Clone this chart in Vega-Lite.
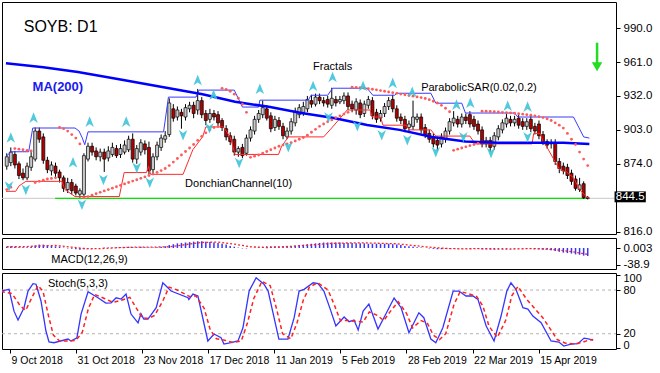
{
"$schema":"https://vega.github.io/schema/vega-lite/v6.json",
"padding":{"left":1,"top":1,"right":0,"bottom":0},
"background":"white",
"spacing":4,
"bounds":"flush",
"config":{"view":{"stroke":"#000","strokeWidth":1},"font":"Liberation Sans","axis":{"labelFont":"Liberation Sans","labelColor":"#000","tickColor":"#000","domain":false,"grid":false,"labelFontSize":11.5,"tickSize":4}},
"resolve":{"scale":{"x":"independent","y":"independent"}},
"datasets":{
"candles":[
{"i":-2,"o":872,"h":883,"l":869,"c":880,"m":3,"s":852},
{"i":-1,"o":875,"h":888,"l":872,"c":884,"m":4,"s":854},
{"i":0,"o":882,"h":885,"l":870,"c":873,"m":3,"s":887},
{"i":1,"o":874,"h":876,"l":861,"c":864,"m":2,"s":886.5},
{"i":2,"o":866,"h":870,"l":860,"c":862,"m":2,"s":886},
{"i":3,"o":862,"h":875,"l":860,"c":872,"m":2,"s":885.5},
{"i":4,"o":871,"h":884,"l":868,"c":880,"m":3,"s":885},
{"i":5,"o":878,"h":905,"l":876,"c":902,"m":6,"s":858},
{"i":6,"o":902,"h":905,"l":892,"c":895,"m":8,"s":859},
{"i":7,"o":897,"h":900,"l":874,"c":877,"m":8,"s":860},
{"i":8,"o":877,"h":880,"l":866,"c":869,"m":6,"s":861},
{"i":9,"o":868,"h":876,"l":864,"c":873,"m":5,"s":861.5},
{"i":10,"o":872,"h":875,"l":862,"c":866,"m":4,"s":862},
{"i":11,"o":867,"h":869,"l":858,"c":862,"m":3,"s":905},
{"i":12,"o":862,"h":864,"l":850,"c":853,"m":1,"s":904},
{"i":13,"o":852,"h":862,"l":849,"c":858,"m":-1,"s":902},
{"i":14,"o":858,"h":861,"l":848,"c":851,"m":-2,"s":899},
{"i":15,"o":855,"h":857,"l":847,"c":849,"m":-3,"s":896},
{"i":16,"o":848,"h":853,"l":845,"c":851,"m":-4,"s":891},
{"i":17,"o":848,"h":883,"l":846,"c":881,"m":-3,"s":845},
{"i":18,"o":878,"h":892,"l":876,"c":889,"m":-2,"s":846},
{"i":19,"o":889,"h":892,"l":881,"c":884,"m":-1,"s":847.2},
{"i":20,"o":885,"h":888,"l":877,"c":880,"m":0,"s":848.4},
{"i":21,"o":880,"h":887,"l":876,"c":884,"m":0,"s":849.6},
{"i":22,"o":884,"h":887,"l":867,"c":878,"m":1,"s":850.8},
{"i":23,"o":879,"h":889,"l":876,"c":885,"m":1,"s":852},
{"i":24,"o":882,"h":892,"l":880,"c":888,"m":1,"s":853.2},
{"i":25,"o":887,"h":890,"l":879,"c":881,"m":2,"s":854.4},
{"i":26,"o":882,"h":891,"l":879,"c":887,"m":2,"s":855.6},
{"i":27,"o":884,"h":894,"l":882,"c":890,"m":2,"s":856.8},
{"i":28,"o":886,"h":898,"l":884,"c":895,"m":3,"s":858},
{"i":29,"o":895,"h":900,"l":875,"c":878,"m":2,"s":859.2},
{"i":30,"o":878,"h":890,"l":874,"c":887,"m":2,"s":860.4},
{"i":31,"o":884,"h":895,"l":881,"c":892,"m":3,"s":861.6},
{"i":32,"o":891,"h":894,"l":882,"c":886,"m":2,"s":862.8},
{"i":33,"o":888,"h":893,"l":865,"c":868,"m":1,"s":864},
{"i":34,"o":869,"h":883,"l":866,"c":880,"m":1,"s":865.2},
{"i":35,"o":880,"h":893,"l":877,"c":890,"m":2,"s":866.6},
{"i":36,"o":888,"h":899,"l":885,"c":896,"m":3,"s":868.2},
{"i":37,"o":895,"h":902,"l":892,"c":898,"m":4,"s":870},
{"i":38,"o":899,"h":930,"l":897,"c":926,"m":7,"s":872.5},
{"i":39,"o":921,"h":925,"l":910,"c":913,"m":9,"s":875.5},
{"i":40,"o":914,"h":923,"l":911,"c":920,"m":11,"s":878.5},
{"i":41,"o":918,"h":921,"l":904,"c":915,"m":12,"s":881.5},
{"i":42,"o":914,"h":925,"l":911,"c":922,"m":13,"s":884.5},
{"i":43,"o":921,"h":927,"l":918,"c":924,"m":14,"s":887.5},
{"i":44,"o":924,"h":927,"l":913,"c":917,"m":15,"s":890.5},
{"i":45,"o":920,"h":938,"l":916,"c":928,"m":16,"s":894},
{"i":46,"o":928,"h":931,"l":913,"c":916,"m":16,"s":897.5},
{"i":47,"o":917,"h":920,"l":907,"c":911,"m":15,"s":900.5},
{"i":48,"o":912,"h":921,"l":909,"c":917,"m":14,"s":903},
{"i":49,"o":917,"h":920,"l":911,"c":914,"m":13,"s":905},
{"i":50,"o":916,"h":919,"l":906,"c":909,"m":12,"s":905.8},
{"i":51,"o":911,"h":913,"l":902,"c":905,"m":10,"s":938.5},
{"i":52,"o":904,"h":907,"l":894,"c":897,"m":8,"s":937.5},
{"i":53,"o":898,"h":901,"l":890,"c":893,"m":5,"s":936},
{"i":54,"o":895,"h":898,"l":881,"c":884,"m":3,"s":933.5},
{"i":55,"o":884,"h":889,"l":880,"c":887,"m":1,"s":930},
{"i":56,"o":888,"h":891,"l":879,"c":881,"m":-1,"s":925},
{"i":57,"o":883,"h":899,"l":881,"c":896,"m":-1,"s":918},
{"i":58,"o":896,"h":906,"l":893,"c":903,"m":0,"s":879.5},
{"i":59,"o":902,"h":915,"l":899,"c":912,"m":1,"s":880.5},
{"i":60,"o":912,"h":920,"l":909,"c":917,"m":2,"s":881.5},
{"i":61,"o":916,"h":928,"l":913,"c":922,"m":3,"s":883},
{"i":62,"o":921,"h":924,"l":911,"c":913,"m":4,"s":884.5},
{"i":63,"o":915,"h":918,"l":901,"c":904,"m":4,"s":886},
{"i":64,"o":905,"h":915,"l":902,"c":912,"m":4,"s":887.5},
{"i":65,"o":911,"h":914,"l":903,"c":906,"m":3,"s":889},
{"i":66,"o":906,"h":909,"l":895,"c":898,"m":3,"s":890},
{"i":67,"o":897,"h":905,"l":895,"c":902,"m":4,"s":891},
{"i":68,"o":902,"h":913,"l":899,"c":910,"m":5,"s":892},
{"i":69,"o":909,"h":922,"l":906,"c":919,"m":6,"s":893.5},
{"i":70,"o":916,"h":925,"l":913,"c":922,"m":7,"s":895},
{"i":71,"o":918,"h":927,"l":915,"c":923,"m":8,"s":896.5},
{"i":72,"o":921,"h":932,"l":918,"c":929,"m":9,"s":898.5},
{"i":73,"o":928,"h":933,"l":922,"c":925,"m":10,"s":901},
{"i":74,"o":925,"h":934,"l":923,"c":931,"m":11,"s":903.5},
{"i":75,"o":931,"h":934,"l":925,"c":928,"m":12,"s":906},
{"i":76,"o":928,"h":931,"l":923,"c":926,"m":13,"s":908},
{"i":77,"o":929,"h":932,"l":922,"c":925,"m":13,"s":910},
{"i":78,"o":924,"h":939,"l":921,"c":930,"m":13,"s":911.5},
{"i":79,"o":929,"h":932,"l":923,"c":926,"m":13,"s":913.5},
{"i":80,"o":927,"h":932,"l":925,"c":929,"m":13,"s":915},
{"i":81,"o":928,"h":935,"l":925,"c":932,"m":12,"s":916.5},
{"i":82,"o":932,"h":935,"l":920,"c":923,"m":12,"s":918},
{"i":83,"o":925,"h":928,"l":918,"c":921,"m":12,"s":939.5},
{"i":84,"o":920,"h":930,"l":916,"c":927,"m":11,"s":939.3},
{"i":85,"o":926,"h":929,"l":913,"c":916,"m":11,"s":939},
{"i":86,"o":917,"h":928,"l":914,"c":925,"m":11,"s":938.6},
{"i":87,"o":924,"h":932,"l":921,"c":929,"m":10,"s":938.2},
{"i":88,"o":928,"h":931,"l":912,"c":915,"m":10,"s":937.7},
{"i":89,"o":918,"h":921,"l":909,"c":912,"m":10,"s":937.2},
{"i":90,"o":913,"h":920,"l":910,"c":917,"m":10,"s":936.6},
{"i":91,"o":917,"h":926,"l":914,"c":923,"m":10,"s":936},
{"i":92,"o":923,"h":931,"l":920,"c":928,"m":10,"s":935.4},
{"i":93,"o":929,"h":933,"l":918,"c":921,"m":9,"s":934.8},
{"i":94,"o":921,"h":924,"l":910,"c":913,"m":8,"s":934.2},
{"i":95,"o":914,"h":917,"l":908,"c":911,"m":7,"s":933.6},
{"i":96,"o":912,"h":915,"l":901,"c":904,"m":5,"s":933},
{"i":97,"o":905,"h":911,"l":902,"c":908,"m":4,"s":932.4},
{"i":98,"o":906,"h":928,"l":903,"c":914,"m":3,"s":931.8},
{"i":99,"o":912,"h":917,"l":909,"c":914,"m":2,"s":931.2},
{"i":100,"o":914,"h":917,"l":900,"c":903,"m":1,"s":930.6},
{"i":101,"o":905,"h":908,"l":896,"c":899,"m":0,"s":929.8},
{"i":102,"o":900,"h":903,"l":892,"c":895,"m":-1,"s":928.8},
{"i":103,"o":897,"h":900,"l":888,"c":891,"m":-2,"s":927.5},
{"i":104,"o":894,"h":897,"l":885,"c":890,"m":-3,"s":926},
{"i":105,"o":891,"h":900,"l":888,"c":897,"m":-3,"s":924},
{"i":106,"o":895,"h":905,"l":892,"c":902,"m":-2,"s":921.5},
{"i":107,"o":902,"h":913,"l":899,"c":910,"m":-2,"s":918.5},
{"i":108,"o":909,"h":919,"l":906,"c":913,"m":-1,"s":885.5},
{"i":109,"o":912,"h":915,"l":905,"c":908,"m":-1,"s":886.5},
{"i":110,"o":908,"h":917,"l":905,"c":914,"m":-1,"s":887.5},
{"i":111,"o":914,"h":917,"l":908,"c":911,"m":-1,"s":888.5},
{"i":112,"o":916,"h":919,"l":905,"c":908,"m":-1,"s":889.5},
{"i":113,"o":912,"h":915,"l":903,"c":906,"m":-1,"s":890.5},
{"i":114,"o":908,"h":911,"l":899,"c":902,"m":-2,"s":891.5},
{"i":115,"o":903,"h":906,"l":888,"c":891,"m":-3,"s":919},
{"i":116,"o":891,"h":897,"l":888,"c":894,"m":-3,"s":918.9},
{"i":117,"o":894,"h":897,"l":884,"c":888,"m":-3,"s":918.7},
{"i":118,"o":889,"h":901,"l":886,"c":898,"m":-3,"s":918.5},
{"i":119,"o":897,"h":907,"l":894,"c":904,"m":-2,"s":918.3},
{"i":120,"o":903,"h":912,"l":900,"c":909,"m":-2,"s":918},
{"i":121,"o":908,"h":917,"l":905,"c":913,"m":-2,"s":917.8},
{"i":122,"o":912,"h":915,"l":906,"c":909,"m":-1,"s":917.5},
{"i":123,"o":909,"h":915,"l":906,"c":912,"m":-1,"s":917.2},
{"i":124,"o":913,"h":916,"l":904,"c":907,"m":-1,"s":916.8},
{"i":125,"o":910,"h":913,"l":903,"c":906,"m":-1,"s":916.4},
{"i":126,"o":906,"h":913,"l":903,"c":910,"m":-1,"s":916},
{"i":127,"o":912,"h":915,"l":901,"c":904,"m":-1,"s":915.6},
{"i":128,"o":906,"h":909,"l":899,"c":902,"m":-2,"s":915},
{"i":129,"o":908,"h":911,"l":895,"c":898,"m":-3,"s":914.3},
{"i":130,"o":899,"h":902,"l":890,"c":893,"m":-4,"s":913.5},
{"i":131,"o":893,"h":895,"l":887,"c":890,"m":-4,"s":912.5},
{"i":132,"o":891,"h":895,"l":887,"c":892,"m":-5,"s":911},
{"i":133,"o":892,"h":895,"l":873,"c":876,"m":-7,"s":909},
{"i":134,"o":876,"h":879,"l":866,"c":870,"m":-9,"s":907},
{"i":135,"o":872,"h":875,"l":865,"c":868,"m":-11,"s":904.5},
{"i":136,"o":871,"h":874,"l":861,"c":864,"m":-12,"s":900},
{"i":137,"o":866,"h":869,"l":856,"c":859,"m":-13,"s":895},
{"i":138,"o":861,"h":864,"l":851,"c":853,"m":-15,"s":890.5},
{"i":139,"o":852,"h":862,"l":850,"c":856,"m":-16,"s":884},
{"i":140,"o":857,"h":859,"l":844,"c":845,"m":-18,"s":878},
{"i":141,"o":845,"h":846.5,"l":843.5,"c":844.5,"m":-19,"s":872.5}
],
"ma":[{"i":-2.2,"p":960},{"i":7,"p":956.5},{"i":15.5,"p":952.4},{"i":26,"p":946},{"i":36.6,"p":939.4},{"i":46.2,"p":933.5},{"i":54.2,"p":927},{"i":62.5,"p":922.7},{"i":70.5,"p":917.4},{"i":78.5,"p":913.1},{"i":86.7,"p":907.2},{"i":94.7,"p":903},{"i":102.7,"p":897},{"i":110.9,"p":893},{"i":118.9,"p":892},{"i":127,"p":892},{"i":135,"p":892},{"i":141.4,"p":891}],
"dcu":[{"i":-2.2,"p":880},{"i":-1,"p":884.3},{"i":3.4,"p":884.3},{"i":4.4,"p":904.6},{"i":14.8,"p":904.6},{"i":15.8,"p":902},{"i":16.6,"p":896},{"i":17.2,"p":890.3},{"i":18,"p":901.3},{"i":36.6,"p":901.3},{"i":37.8,"p":931},{"i":44.6,"p":931},{"i":45.3,"p":937},{"i":54,"p":937},{"i":56,"p":922.5},{"i":60,"p":922.5},{"i":60.3,"p":928.4},{"i":72.2,"p":928.4},{"i":72.9,"p":932.6},{"i":77,"p":932.6},{"i":78.2,"p":938.6},{"i":86.7,"p":938.6},{"i":88.1,"p":932.6},{"i":93.5,"p":932.6},{"i":94,"p":934.3},{"i":102.4,"p":934.3},{"i":103.6,"p":925.8},{"i":110,"p":925.8},{"i":110.9,"p":917.4},{"i":123,"p":917.4},{"i":123.8,"p":914},{"i":137.5,"p":914},{"i":140,"p":897},{"i":141.4,"p":896}],
"dcl":[{"i":-2.2,"p":850.5},{"i":0.2,"p":850.5},{"i":1,"p":855},{"i":2.7,"p":859},{"i":11.6,"p":859},{"i":12.3,"p":852},{"i":14.8,"p":846},{"i":25.7,"p":846},{"i":26.9,"p":866.5},{"i":32.4,"p":866.5},{"i":32.9,"p":872},{"i":33.4,"p":865},{"i":41.4,"p":865},{"i":43.8,"p":886},{"i":46.2,"p":897},{"i":47,"p":905.5},{"i":51.3,"p":905.5},{"i":53,"p":897},{"i":54.2,"p":882},{"i":64.9,"p":882},{"i":65.6,"p":888.6},{"i":67.3,"p":897},{"i":76,"p":897},{"i":78.2,"p":905.5},{"i":81.8,"p":920},{"i":87.4,"p":920},{"i":88,"p":914},{"i":90,"p":914},{"i":90.6,"p":907},{"i":96.4,"p":907},{"i":97,"p":903},{"i":102.4,"p":903},{"i":103.6,"p":897.7},{"i":112,"p":897.7},{"i":113.3,"p":891},{"i":127.3,"p":891},{"i":127.7,"p":900},{"i":129.3,"p":900},{"i":130,"p":893},{"i":131,"p":888},{"i":132.7,"p":877.5},{"i":134.1,"p":869},{"i":135.8,"p":867},{"i":137.5,"p":862},{"i":139,"p":852},{"i":140.8,"p":845.3},{"i":141.4,"p":844.5}],
"fup":[{"i":-1,"p":896.2},{"i":4.6,"p":913.1},{"i":14.3,"p":875},{"i":18.4,"p":909.7},{"i":27.4,"p":909.7},{"i":45,"p":945.3},{"i":48.9,"p":932.6},{"i":60.3,"p":937.7},{"i":73.4,"p":940.2},{"i":78.2,"p":947.9},{"i":85.7,"p":940.2},{"i":93,"p":942.8},{"i":97.8,"p":935.2},{"i":108.7,"p":924.2},{"i":112.1,"p":925.8},{"i":121.3,"p":923.3},{"i":126.2,"p":922.5}],
"fdn":[{"i":-1.45,"p":854.9},{"i":2.7,"p":852.1},{"i":16.5,"p":839.4},{"i":21.8,"p":860.6},{"i":30,"p":870.8},{"i":33.2,"p":858.1},{"i":41.4,"p":898.7},{"i":47.9,"p":904.7},{"i":55.2,"p":875},{"i":67.3,"p":888.6},{"i":77.2,"p":914},{"i":84.3,"p":906.4},{"i":90.3,"p":898.7},{"i":96.6,"p":894.5},{"i":103.6,"p":884.3},{"i":110.4,"p":897},{"i":117.2,"p":883.5},{"i":126.2,"p":897}],
"macds":[{"i":-2,"v":3},{"i":2,"v":3},{"i":6,"v":5},{"i":10,"v":6},{"i":14,"v":2},{"i":18,"v":-2},{"i":22,"v":-1},{"i":26,"v":1},{"i":30,"v":2},{"i":34,"v":2},{"i":38,"v":3},{"i":42,"v":8},{"i":46,"v":13},{"i":50,"v":14},{"i":54,"v":9},{"i":58,"v":3},{"i":62,"v":1},{"i":66,"v":3},{"i":70,"v":5},{"i":74,"v":8},{"i":78,"v":11},{"i":82,"v":12},{"i":86,"v":12},{"i":90,"v":11},{"i":94,"v":10},{"i":98,"v":6},{"i":102,"v":2},{"i":106,"v":-1},{"i":110,"v":-2},{"i":114,"v":-1.5},{"i":118,"v":-2.5},{"i":122,"v":-2.5},{"i":126,"v":-1.5},{"i":130,"v":-2},{"i":134,"v":-5},{"i":138,"v":-10},{"i":141,"v":-15}],
"st":[{"i":-2.2,"v":78.6},{"i":-0.24,"v":81},{"i":0.97,"v":51},{"i":1.94,"v":38.8},{"i":3.39,"v":55.7},{"i":4.36,"v":78.6},{"i":5.57,"v":88.7},{"i":6.3,"v":88},{"i":7.5,"v":65},{"i":8.7,"v":23.7},{"i":9.44,"v":8.6},{"i":10.65,"v":7.6},{"i":14.04,"v":12.7},{"i":14.77,"v":10},{"i":16.2,"v":14.5},{"i":17.2,"v":47},{"i":18.9,"v":77.7},{"i":21.3,"v":69.4},{"i":23.2,"v":62},{"i":24.5,"v":62.5},{"i":25.7,"v":69.4},{"i":26.9,"v":67.6},{"i":28.1,"v":74.5},{"i":29.3,"v":47},{"i":31,"v":35},{"i":31.7,"v":47.5},{"i":32.4,"v":40},{"i":33.4,"v":40},{"i":35.4,"v":55.7},{"i":37,"v":90},{"i":39,"v":78.6},{"i":43.1,"v":69.4},{"i":43.3,"v":67},{"i":44.3,"v":74.5},{"i":45.5,"v":71.8},{"i":47.9,"v":10},{"i":49.4,"v":19.6},{"i":51.1,"v":14.5},{"i":51.8,"v":5.8},{"i":53.5,"v":7.6},{"i":55.2,"v":10},{"i":56.4,"v":28.2},{"i":57.9,"v":78.6},{"i":59.6,"v":96.9},{"i":61.5,"v":88},{"i":62.5,"v":78.6},{"i":65.1,"v":12.7},{"i":67.3,"v":12.7},{"i":68.8,"v":42},{"i":70,"v":78.6},{"i":71.2,"v":81},{"i":73.4,"v":90},{"i":74.6,"v":88.7},{"i":76,"v":78.6},{"i":77.7,"v":51},{"i":78.9,"v":30.6},{"i":80.9,"v":43},{"i":82.1,"v":36.5},{"i":83.3,"v":38.8},{"i":84.3,"v":25},{"i":85.5,"v":51},{"i":86.9,"v":60.8},{"i":89.1,"v":26.4},{"i":91,"v":47},{"i":93,"v":69},{"i":94.7,"v":55.7},{"i":96.6,"v":21.4},{"i":99,"v":48.8},{"i":100.2,"v":42},{"i":101.9,"v":12.7},{"i":103.1,"v":7.6},{"i":104.8,"v":28.2},{"i":107.3,"v":78.6},{"i":108.7,"v":78.6},{"i":110.4,"v":71.8},{"i":112.1,"v":71.8},{"i":113.3,"v":67.2},{"i":115.3,"v":30.6},{"i":117.2,"v":10},{"i":118.9,"v":44.3},{"i":120.3,"v":78.6},{"i":121.3,"v":90},{"i":122.5,"v":81},{"i":124.2,"v":55.7},{"i":125.4,"v":53.9},{"i":126.6,"v":44.3},{"i":128.6,"v":35},{"i":131,"v":10},{"i":132.9,"v":8.6},{"i":134.1,"v":3},{"i":135.8,"v":5.8},{"i":137.5,"v":6.3},{"i":139,"v":14},{"i":140,"v":13},{"i":141.2,"v":11.3}],
"ss":[{"i":-2.2,"v":78},{"i":0.5,"v":75},{"i":2.5,"v":58},{"i":3.8,"v":52},{"i":5.5,"v":72},{"i":6.8,"v":86},{"i":8,"v":78},{"i":9.3,"v":45},{"i":10.5,"v":18},{"i":12,"v":10},{"i":14,"v":10},{"i":16,"v":11},{"i":17.5,"v":22},{"i":19,"v":55},{"i":20.5,"v":74},{"i":23,"v":68},{"i":25,"v":63},{"i":27,"v":66},{"i":29,"v":70},{"i":30.5,"v":56},{"i":32,"v":42},{"i":33.5,"v":41},{"i":35,"v":45},{"i":37,"v":65},{"i":38.5,"v":84},{"i":40.5,"v":80},{"i":43.5,"v":71},{"i":45,"v":72},{"i":47,"v":55},{"i":48.5,"v":25},{"i":50,"v":13},{"i":52,"v":11},{"i":54,"v":8},{"i":56,"v":10},{"i":57.5,"v":35},{"i":59,"v":68},{"i":61,"v":92},{"i":63,"v":86},{"i":64.5,"v":55},{"i":66,"v":20},{"i":68,"v":13},{"i":69.5,"v":35},{"i":71,"v":66},{"i":72.5,"v":84},{"i":74.5,"v":90},{"i":77,"v":80},{"i":78.5,"v":60},{"i":80,"v":38},{"i":82,"v":38},{"i":84,"v":37},{"i":85.5,"v":36},{"i":87,"v":50},{"i":89,"v":45},{"i":90.5,"v":38},{"i":92,"v":50},{"i":94,"v":64},{"i":96,"v":48},{"i":97.5,"v":28},{"i":99.5,"v":38},{"i":101,"v":35},{"i":102.5,"v":18},{"i":104,"v":12},{"i":105.5,"v":20},{"i":107.5,"v":60},{"i":109,"v":78},{"i":111,"v":75},{"i":113,"v":71},{"i":114.5,"v":58},{"i":116,"v":30},{"i":118,"v":15},{"i":120,"v":38},{"i":121.5,"v":72},{"i":123,"v":85},{"i":125,"v":68},{"i":127,"v":55},{"i":129,"v":42},{"i":131,"v":25},{"i":132.5,"v":12},{"i":134.5,"v":7},{"i":136.5,"v":6},{"i":138.5,"v":8},{"i":140,"v":11},{"i":141.2,"v":12}]
},
"vconcat":[
{"width":614,"height":232,
"layer":[
{"data":{"values":[{"p":844.5}]},"mark":{"type":"rule","color":"#c8c8c8","strokeWidth":1},
"encoding":{"y":{"field":"p","type":"quantitative","scale":{"domain":[814,1012.3],"nice":false,"zero":false},"axis":{"orient":"right","title":null,"values":[816,874,903,932,961,990],"format":".1f","labelPadding":3}}}},
{"data":{"values":[{"a":9.9,"b":141.2,"p":844.5}]},"mark":{"type":"rule","color":"#00e600","strokeWidth":1.3},
"encoding":{"x":{"field":"a","type":"quantitative","scale":{"domain":[-1.94,146.73],"nice":false,"zero":false},"axis":null},"x2":{"field":"b"},"y":{"field":"p","type":"quantitative","scale":{"domain":[814,1012.3],"nice":false,"zero":false},"axis":{"orient":"right","title":null,"values":[816,874,903,932,961,990],"format":".1f","labelPadding":3}}}},
{"data":{"name":"candles"},"mark":{"type":"rule","color":"#000","strokeWidth":1,"clip":true},
"encoding":{"x":{"field":"i","type":"quantitative","scale":{"domain":[-1.94,146.73],"nice":false,"zero":false},"axis":null},"y":{"field":"l","type":"quantitative","scale":{"domain":[814,1012.3],"nice":false,"zero":false},"axis":{"orient":"right","title":null,"values":[816,874,903,932,961,990],"format":".1f","labelPadding":3}},"y2":{"field":"h"}}},
{"data":{"name":"candles"},"mark":{"type":"bar","size":3,"stroke":"#000","strokeWidth":0.7,"clip":true},
"encoding":{"x":{"field":"i","type":"quantitative","scale":{"domain":[-1.94,146.73],"nice":false,"zero":false},"axis":null},"y":{"field":"o","type":"quantitative","scale":{"domain":[814,1012.3],"nice":false,"zero":false},"axis":{"orient":"right","title":null,"values":[816,874,903,932,961,990],"format":".1f","labelPadding":3}},"y2":{"field":"c"},"fill":{"condition":{"test":"datum.c >= datum.o","value":"#c8c8c8"},"value":"#b00000"}}},
{"data":{"name":"dcu"},"mark":{"type":"line","color":"#3a3aff","strokeWidth":1,"clip":true},
"encoding":{"x":{"field":"i","type":"quantitative","scale":{"domain":[-1.94,146.73],"nice":false,"zero":false},"axis":null},"y":{"field":"p","type":"quantitative","scale":{"domain":[814,1012.3],"nice":false,"zero":false},"axis":{"orient":"right","title":null,"values":[816,874,903,932,961,990],"format":".1f","labelPadding":3}}}},
{"data":{"name":"dcl"},"mark":{"type":"line","color":"#ff2a2a","strokeWidth":1,"clip":true},
"encoding":{"x":{"field":"i","type":"quantitative","scale":{"domain":[-1.94,146.73],"nice":false,"zero":false},"axis":null},"y":{"field":"p","type":"quantitative","scale":{"domain":[814,1012.3],"nice":false,"zero":false},"axis":{"orient":"right","title":null,"values":[816,874,903,932,961,990],"format":".1f","labelPadding":3}}}},
{"data":{"name":"ma"},"mark":{"type":"line","color":"#0000ff","strokeWidth":2.5,"clip":true},
"encoding":{"x":{"field":"i","type":"quantitative","scale":{"domain":[-1.94,146.73],"nice":false,"zero":false},"axis":null},"y":{"field":"p","type":"quantitative","scale":{"domain":[814,1012.3],"nice":false,"zero":false},"axis":{"orient":"right","title":null,"values":[816,874,903,932,961,990],"format":".1f","labelPadding":3}}}},
{"data":{"name":"candles"},"mark":{"type":"point","shape":"circle","filled":true,"size":8,"color":"#ff5a5a","opacity":1,"clip":true},
"encoding":{"x":{"field":"i","type":"quantitative","scale":{"domain":[-1.94,146.73],"nice":false,"zero":false},"axis":null},"y":{"field":"s","type":"quantitative","scale":{"domain":[814,1012.3],"nice":false,"zero":false},"axis":{"orient":"right","title":null,"values":[816,874,903,932,961,990],"format":".1f","labelPadding":3}}}},
{"data":{"name":"fup"},"mark":{"type":"point","shape":"M0,-1L0.75,0.85L0,0.35L-0.75,0.85Z","filled":true,"size":130,"color":"#3fc3d8","opacity":0.9,"clip":true},
"encoding":{"x":{"field":"i","type":"quantitative","scale":{"domain":[-1.94,146.73],"nice":false,"zero":false},"axis":null},"y":{"field":"p","type":"quantitative","scale":{"domain":[814,1012.3],"nice":false,"zero":false},"axis":{"orient":"right","title":null,"values":[816,874,903,932,961,990],"format":".1f","labelPadding":3}}}},
{"data":{"name":"fdn"},"mark":{"type":"point","shape":"M0,1L0.75,-0.85L0,-0.35L-0.75,-0.85Z","filled":true,"size":130,"color":"#3fc3d8","opacity":0.9,"clip":true},
"encoding":{"x":{"field":"i","type":"quantitative","scale":{"domain":[-1.94,146.73],"nice":false,"zero":false},"axis":null},"y":{"field":"p","type":"quantitative","scale":{"domain":[814,1012.3],"nice":false,"zero":false},"axis":{"orient":"right","title":null,"values":[816,874,903,932,961,990],"format":".1f","labelPadding":3}}}},
{"data":{"values":[{"i":2.18,"p":986.9,"t":"SOYB: D1"}]},"mark":{"type":"text","align":"left","baseline":"alphabetic","fontSize":16,"color":"#000","font":"Liberation Sans"},
"encoding":{"x":{"field":"i","type":"quantitative","scale":{"domain":[-1.94,146.73],"nice":false,"zero":false},"axis":null},"y":{"field":"p","type":"quantitative","scale":{"domain":[814,1012.3],"nice":false,"zero":false},"axis":{"orient":"right","title":null,"values":[816,874,903,932,961,990],"format":".1f","labelPadding":3}},"text":{"field":"t"}}},
{"data":{"values":[{"i":4.36,"p":936.4,"t":"MA(200)"}]},"mark":{"type":"text","align":"left","baseline":"alphabetic","fontSize":13,"fontWeight":"bold","color":"#1a1aee","font":"Liberation Sans"},
"encoding":{"x":{"field":"i","type":"quantitative","scale":{"domain":[-1.94,146.73],"nice":false,"zero":false},"axis":null},"y":{"field":"p","type":"quantitative","scale":{"domain":[814,1012.3],"nice":false,"zero":false},"axis":{"orient":"right","title":null,"values":[816,874,903,932,961,990],"format":".1f","labelPadding":3}},"text":{"field":"t"}}},
{"data":{"values":[{"i":73.4,"p":953.8,"t":"Fractals"},{"i":100,"p":936,"t":"ParabolicSAR(0.02,0.2)"},{"i":41.9,"p":853.8,"t":"DonchianChannel(10)"}]},"mark":{"type":"text","align":"left","baseline":"alphabetic","fontSize":11,"color":"#000","font":"Liberation Sans"},
"encoding":{"x":{"field":"i","type":"quantitative","scale":{"domain":[-1.94,146.73],"nice":false,"zero":false},"axis":null},"y":{"field":"p","type":"quantitative","scale":{"domain":[814,1012.3],"nice":false,"zero":false},"axis":{"orient":"right","title":null,"values":[816,874,903,932,961,990],"format":".1f","labelPadding":3}},"text":{"field":"t"}}},
{"data":{"values":[{"i":143.3,"p1":977.5,"p2":960}]},"mark":{"type":"rule","color":"#22dd22","strokeWidth":2.5},
"encoding":{"x":{"field":"i","type":"quantitative","scale":{"domain":[-1.94,146.73],"nice":false,"zero":false},"axis":null},"y":{"field":"p1","type":"quantitative","scale":{"domain":[814,1012.3],"nice":false,"zero":false},"axis":{"orient":"right","title":null,"values":[816,874,903,932,961,990],"format":".1f","labelPadding":3}},"y2":{"field":"p2"}}},
{"data":{"values":[{"i":143.3,"p":957}]},"mark":{"type":"point","shape":"triangle-down","filled":true,"size":110,"color":"#22dd22","opacity":1},
"encoding":{"x":{"field":"i","type":"quantitative","scale":{"domain":[-1.94,146.73],"nice":false,"zero":false},"axis":null},"y":{"field":"p","type":"quantitative","scale":{"domain":[814,1012.3],"nice":false,"zero":false},"axis":{"orient":"right","title":null,"values":[816,874,903,932,961,990],"format":".1f","labelPadding":3}}}},
{"data":{"values":[{"a":147.6,"b":155.3,"p1":841.1,"p2":850.4}]},"mark":{"type":"rect","color":"#000"},
"encoding":{"x":{"field":"a","type":"quantitative","scale":{"domain":[-1.94,146.73],"nice":false,"zero":false},"axis":null},"x2":{"field":"b"},"y":{"field":"p1","type":"quantitative","scale":{"domain":[814,1012.3],"nice":false,"zero":false},"axis":{"orient":"right","title":null,"values":[816,874,903,932,961,990],"format":".1f","labelPadding":3}},"y2":{"field":"p2"}}},
{"data":{"values":[{"i":151.45,"p":845.7,"t":"844.5"}]},"mark":{"type":"text","align":"center","baseline":"middle","fontSize":11.5,"color":"#fff","font":"Liberation Sans"},
"encoding":{"x":{"field":"i","type":"quantitative","scale":{"domain":[-1.94,146.73],"nice":false,"zero":false},"axis":null},"y":{"field":"p","type":"quantitative","scale":{"domain":[814,1012.3],"nice":false,"zero":false},"axis":{"orient":"right","title":null,"values":[816,874,903,932,961,990],"format":".1f","labelPadding":3}},"text":{"field":"t"}}}
]},
{"width":614,"height":31,
"layer":[
{"data":{"name":"candles"},"mark":{"type":"bar","size":1.5,"color":"#3535ff","clip":true},
"encoding":{"x":{"field":"i","type":"quantitative","scale":{"domain":[-1.94,146.73],"nice":false,"zero":false},"axis":null},"y":{"field":"m","type":"quantitative","scale":{"domain":[-49.5,23.6],"nice":false,"zero":false},"axis":{"orient":"right","title":null,"values":[0.003,-38.9],"labelExpr":"datum.value > -1 ? '0.003' : '-38.9'","labelPadding":3}},"y2":{"datum":0}}},
{"data":{"name":"macds"},"mark":{"type":"line","color":"#ff2020","strokeDash":[2,2],"strokeWidth":1.3,"clip":true},
"encoding":{"x":{"field":"i","type":"quantitative","scale":{"domain":[-1.94,146.73],"nice":false,"zero":false},"axis":null},"y":{"field":"v","type":"quantitative","scale":{"domain":[-49.5,23.6],"nice":false,"zero":false},"axis":{"orient":"right","title":null,"values":[0.003,-38.9],"labelExpr":"datum.value > -1 ? '0.003' : '-38.9'","labelPadding":3}}}},
{"data":{"values":[{"i":8.96,"v":-35.4,"t":"MACD(12,26,9)"}]},"mark":{"type":"text","align":"left","baseline":"alphabetic","fontSize":11,"color":"#000","font":"Liberation Sans"},
"encoding":{"x":{"field":"i","type":"quantitative","scale":{"domain":[-1.94,146.73],"nice":false,"zero":false},"axis":null},"y":{"field":"v","type":"quantitative","scale":{"domain":[-49.5,23.6],"nice":false,"zero":false},"axis":{"orient":"right","title":null,"values":[0.003,-38.9],"labelExpr":"datum.value > -1 ? '0.003' : '-38.9'","labelPadding":3}},"text":{"field":"t"}}}
]},
{"width":614,"height":76,
"layer":[
{"data":{"values":[{"a":-1.94,"b":146.73,"v":20},{"a":-1.94,"b":146.73,"v":80}]},"mark":{"type":"rule","color":"#b4b4b4","strokeDash":[3,3]},
"encoding":{"x":{"field":"a","type":"quantitative","scale":{"domain":[-1.94,146.73],"nice":false,"zero":false},"axis":{"orient":"bottom","title":null,"values":[0,16,32,48,64,80,96,112,128],"labelExpr":"datum.value==0?'9 Oct 2018':datum.value==16?'31 Oct 2018':datum.value==32?'23 Nov 2018':datum.value==48?'17 Dec 2018':datum.value==64?'11 Jan 2019':datum.value==80?'5 Feb 2019':datum.value==96?'28 Feb 2019':datum.value==112?'22 Mar 2019':'15 Apr 2019'","labelAlign":"left","labelFontSize":10.5,"labelPadding":2,"labelOffset":1,"labelOverlap":false,"labelFlush":false}},"x2":{"field":"b"},"y":{"field":"v","type":"quantitative","scale":{"domain":[-1,103.4],"nice":false,"zero":false},"axis":{"orient":"right","title":null,"values":[0,20,80,100],"labelPadding":3,"labelFontSize":11,"labelOverlap":false,"labelOffset":{"condition":[{"test":"datum.value == 100","value":3},{"test":"datum.value == 0","value":-3}],"value":0}}}}},
{"data":{"name":"st"},"mark":{"type":"line","color":"#3535ff","strokeWidth":1.3,"clip":true},
"encoding":{"x":{"field":"i","type":"quantitative","scale":{"domain":[-1.94,146.73],"nice":false,"zero":false},"axis":{"orient":"bottom","title":null,"values":[0,16,32,48,64,80,96,112,128],"labelExpr":"datum.value==0?'9 Oct 2018':datum.value==16?'31 Oct 2018':datum.value==32?'23 Nov 2018':datum.value==48?'17 Dec 2018':datum.value==64?'11 Jan 2019':datum.value==80?'5 Feb 2019':datum.value==96?'28 Feb 2019':datum.value==112?'22 Mar 2019':'15 Apr 2019'","labelAlign":"left","labelFontSize":10.5,"labelPadding":2,"labelOffset":1,"labelOverlap":false,"labelFlush":false}},"y":{"field":"v","type":"quantitative","scale":{"domain":[-1,103.4],"nice":false,"zero":false},"axis":{"orient":"right","title":null,"values":[0,20,80,100],"labelPadding":3,"labelFontSize":11,"labelOverlap":false,"labelOffset":{"condition":[{"test":"datum.value == 100","value":3},{"test":"datum.value == 0","value":-3}],"value":0}}}}},
{"data":{"name":"ss"},"mark":{"type":"line","color":"#ff2020","strokeDash":[4,3],"strokeWidth":1.5,"clip":true},
"encoding":{"x":{"field":"i","type":"quantitative","scale":{"domain":[-1.94,146.73],"nice":false,"zero":false},"axis":{"orient":"bottom","title":null,"values":[0,16,32,48,64,80,96,112,128],"labelExpr":"datum.value==0?'9 Oct 2018':datum.value==16?'31 Oct 2018':datum.value==32?'23 Nov 2018':datum.value==48?'17 Dec 2018':datum.value==64?'11 Jan 2019':datum.value==80?'5 Feb 2019':datum.value==96?'28 Feb 2019':datum.value==112?'22 Mar 2019':'15 Apr 2019'","labelAlign":"left","labelFontSize":10.5,"labelPadding":2,"labelOffset":1,"labelOverlap":false,"labelFlush":false}},"y":{"field":"v","type":"quantitative","scale":{"domain":[-1,103.4],"nice":false,"zero":false},"axis":{"orient":"right","title":null,"values":[0,20,80,100],"labelPadding":3,"labelFontSize":11,"labelOverlap":false,"labelOffset":{"condition":[{"test":"datum.value == 100","value":3},{"test":"datum.value == 0","value":-3}],"value":0}}}}},
{"data":{"values":[{"i":9.2,"v":84,"t":"Stoch(5,3,3)"}]},"mark":{"type":"text","align":"left","baseline":"alphabetic","fontSize":11,"color":"#000","font":"Liberation Sans"},
"encoding":{"x":{"field":"i","type":"quantitative","scale":{"domain":[-1.94,146.73],"nice":false,"zero":false},"axis":{"orient":"bottom","title":null,"values":[0,16,32,48,64,80,96,112,128],"labelExpr":"datum.value==0?'9 Oct 2018':datum.value==16?'31 Oct 2018':datum.value==32?'23 Nov 2018':datum.value==48?'17 Dec 2018':datum.value==64?'11 Jan 2019':datum.value==80?'5 Feb 2019':datum.value==96?'28 Feb 2019':datum.value==112?'22 Mar 2019':'15 Apr 2019'","labelAlign":"left","labelFontSize":10.5,"labelPadding":2,"labelOffset":1,"labelOverlap":false,"labelFlush":false}},"y":{"field":"v","type":"quantitative","scale":{"domain":[-1,103.4],"nice":false,"zero":false},"axis":{"orient":"right","title":null,"values":[0,20,80,100],"labelPadding":3,"labelFontSize":11,"labelOverlap":false,"labelOffset":{"condition":[{"test":"datum.value == 100","value":3},{"test":"datum.value == 0","value":-3}],"value":0}}},"text":{"field":"t"}}}
]}
]
}
